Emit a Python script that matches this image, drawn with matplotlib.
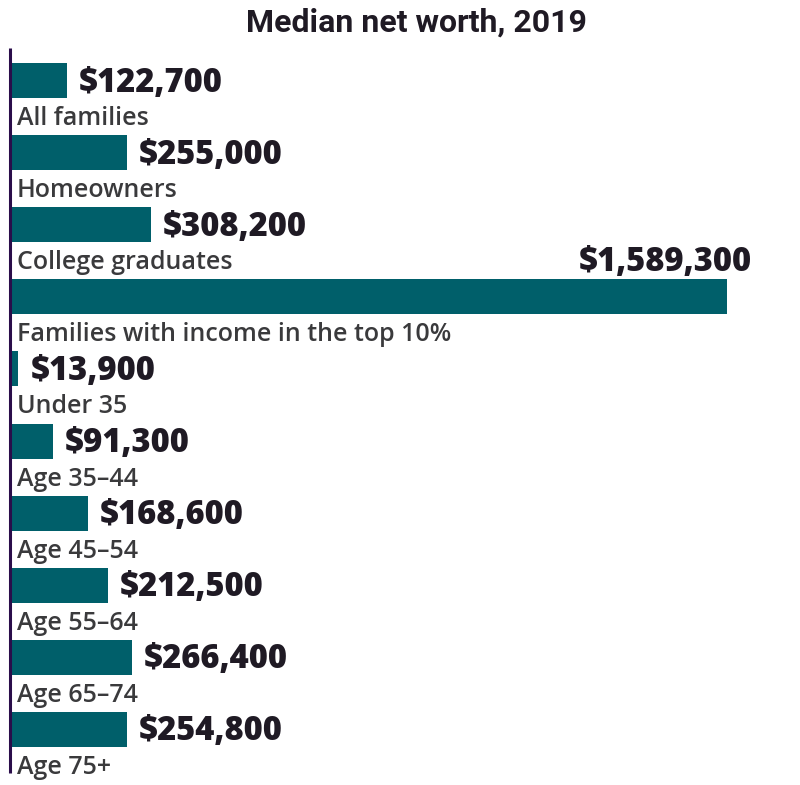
import matplotlib.pyplot as plt
from matplotlib.lines import Line2D

categories = ["All families", "Homeowners", "College graduates",
              "Families with income in the top 10%", "Under 35",
              "Age 35\u201344", "Age 45\u201354", "Age 55\u201364",
              "Age 65\u201374", "Age 75+"]
values = [122700, 255000, 308200, 1589300, 13900,
          91300, 168600, 212500, 266400, 254800]
value_labels = ["$122,700", "$255,000", "$308,200", "$1,589,300", "$13,900",
                "$91,300", "$168,600", "$212,500", "$266,400", "$254,800"]

W, H = 800, 785
fig = plt.figure(figsize=(W / 100, H / 100), dpi=100)
ax = fig.add_axes([12 / W, 0, (W - 12) / W, 1])

bar_col = "#005f6a"
dark = "#1f1a24"
gray = "#3a3a3c"

row = 72.1
ax.set_xlim(0, max(values) * (W - 12) / (727 - 12))
ax.set_ylim(9 + (H - 729.5) / row, -80.5 / row)
ax.axis("off")

ys = list(range(len(values)))
ax.barh(ys, values, height=35 / row, color=bar_col)

for y, v, lab, cat in zip(ys, values, value_labels, categories):
    if v == max(values):
        ax.annotate(lab, (v, y), xytext=(25, 35), textcoords="offset pixels",
                    ha="right", va="center", fontsize=23.5, fontweight=800,
                    family="Open Sans", color=dark)
    else:
        ax.annotate(lab, (v, y), xytext=(12, -2), textcoords="offset pixels",
                    ha="left", va="center", fontsize=23.5, fontweight=800,
                    family="Open Sans", color=dark)
    ax.annotate(cat, (0, y), xytext=(5, -38), textcoords="offset pixels",
                ha="left", va="center", fontsize=18, fontweight=600,
                family="Open Sans", color=gray)

fig.add_artist(Line2D([9.5 / W, 9.5 / W], [1 - 48 / H, 1 - 773 / H],
                      lw=2.2, color="#2a0d4a", solid_capstyle="butt"))

fig.text(416 / W, 1 - 23 / H, "Median net worth, 2019", ha="center", va="center",
         fontsize=23, fontweight="bold", family="Roboto", color=dark)

fig.savefig("out.png", dpi=100)
